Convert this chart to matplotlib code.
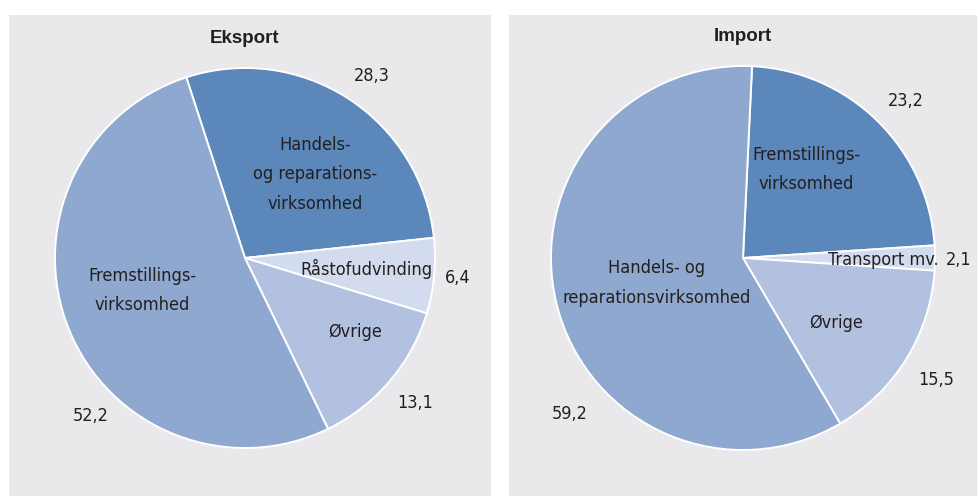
import matplotlib.pyplot as plt

# ================================================================
# Data
# ================================================================
EKS_LABELS = ["Handels-\nog reparations-\nvirksomhed", "Råstofudvinding", "Øvrige",
              "Fremstillings-\nvirksomhed"]
EKS_VALUES = [28.3, 6.4, 13.1, 52.2]
EKS_VALTXT = ["28,3", "6,4", "13,1", "52,2"]

IMP_LABELS = ["Fremstillings-\nvirksomhed", "Transport mv.", "Øvrige",
              "Handels- og\nreparationsvirksomhed"]
IMP_VALUES = [23.2, 2.1, 15.5, 59.2]
IMP_VALTXT = ["23,2", "2,1", "15,5", "59,2"]

# ================================================================
# Style
# ================================================================
DARK, MID, LIGHT, PALE = "#5b87ba", "#8fa8cf", "#b1c1df", "#d3dcee"
BG = "#e9e9ec"
TXT = "#231f20"
FS = 13

plt.rcParams['font.family'] = ["DejaVu Sans"]
plt.rcParams['font.stretch'] = "condensed"

W, H = 978, 496
fig = plt.figure(figsize=(W / 100, H / 100), dpi=100)
fig.patch.set_facecolor("white")


def panel(rect_px, center_px, r_px):
    x0, y0, x1, y1 = rect_px
    ax = fig.add_axes([x0 / W, 1 - y1 / H, (x1 - x0) / W, (y1 - y0) / H])
    ax.set_facecolor(BG)
    cx, cy = center_px
    return ax, ((x0 - cx) / r_px, (x1 - cx) / r_px), ((cy - y1) / r_px, (cy - y0) / r_px)


def draw(ax, xlim, ylim, values, colors, start, title, labels, lab_pos, valtxt, val_pos):
    ax.pie(values, colors=colors, startangle=start, counterclock=False, radius=1,
           wedgeprops=dict(edgecolor="white", linewidth=1.4))
    ax.set_xlim(*xlim); ax.set_ylim(*ylim)
    ax.set_aspect("auto")
    ax.set_frame_on(True)
    for s in ax.spines.values():
        s.set_visible(False)
    ax.set_xticks([]); ax.set_yticks([])
    ax.text(0, 1.155, title, ha="center", va="center", fontsize=13.5, fontweight="bold",
            family=["Liberation Sans", "DejaVu Sans"], fontstretch="normal", color=TXT)
    for lab, (x, y, ha) in zip(labels, lab_pos):
        ax.text(x, y, lab, ha=ha, va="center", fontsize=FS, color=TXT, linespacing=1.8,
                multialignment="center")
    for v, (x, y) in zip(valtxt, val_pos):
        ax.text(x, y, v, ha="center", va="center", fontsize=FS, color=TXT)


ax1, xl1, yl1 = panel((9, 15, 491, 496), (245, 258), 190)
draw(ax1, xl1, yl1, EKS_VALUES, [DARK, PALE, LIGHT, MID], 108, "Eksport", EKS_LABELS,
     [(0.37, 0.44, "center"), (0.64, -0.06, "center"), (0.58, -0.39, "center"),
      (-0.54, -0.17, "center")],
     EKS_VALTXT, [(0.67, 0.96), (1.12, -0.105), (0.895, -0.765), (-0.81, -0.83)])

ax2, xl2, yl2 = panel((509, 15, 978, 496), (743, 258), 192)
draw(ax2, xl2, yl2, IMP_VALUES, [DARK, PALE, LIGHT, MID], 87.3, "Import", IMP_LABELS,
     [(0.33, 0.46, "center"), (1.02, -0.01, "right"), (0.485, -0.34, "center"),
      (-0.45, -0.13, "center")],
     IMP_VALTXT, [(0.85, 0.82), (1.125, -0.01), (1.005, -0.635), (-0.905, -0.81)])

fig.savefig("out.png", dpi=100)
